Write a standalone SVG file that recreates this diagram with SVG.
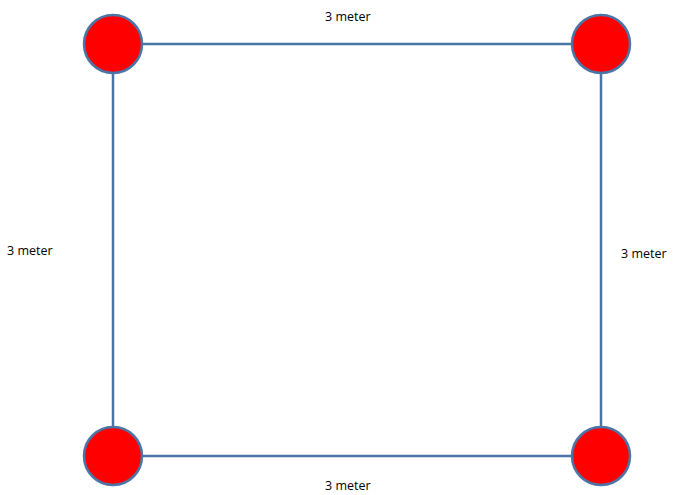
<svg xmlns="http://www.w3.org/2000/svg" width="677" height="495" viewBox="0 0 677 495">
<style>
.n{fill:#ff0000;stroke:#4a75a6;stroke-width:2.5}
.e{stroke:#4a75a6;stroke-width:2.5;fill:none}
.t{font-family:"Open Sans","Liberation Sans",sans-serif;font-size:12.5px;fill:#000}
</style>
<rect width="677" height="495" fill="#fff"/>
<g id="connectors">
<line class="e" x1="113" y1="44" x2="601" y2="44"/>
<line class="e" x1="113" y1="44" x2="113" y2="456"/>
<line class="e" x1="601" y1="44" x2="601" y2="456"/>
<line class="e" x1="113" y1="456" x2="601" y2="456"/>
</g>
<g id="n1"><circle class="n" cx="113" cy="44" r="29"/></g>
<g id="n2"><circle class="n" cx="601" cy="44" r="29"/></g>
<g id="n3"><circle class="n" cx="113" cy="456" r="29"/></g>
<g id="n4"><circle class="n" cx="601" cy="456" r="29"/></g>
<g id="labels">
<text class="t" x="325" y="21">3 meter</text>
<text class="t" x="7" y="255">3 meter</text>
<text class="t" x="621" y="258">3 meter</text>
<text class="t" x="325" y="490">3 meter</text>
</g>
</svg>
